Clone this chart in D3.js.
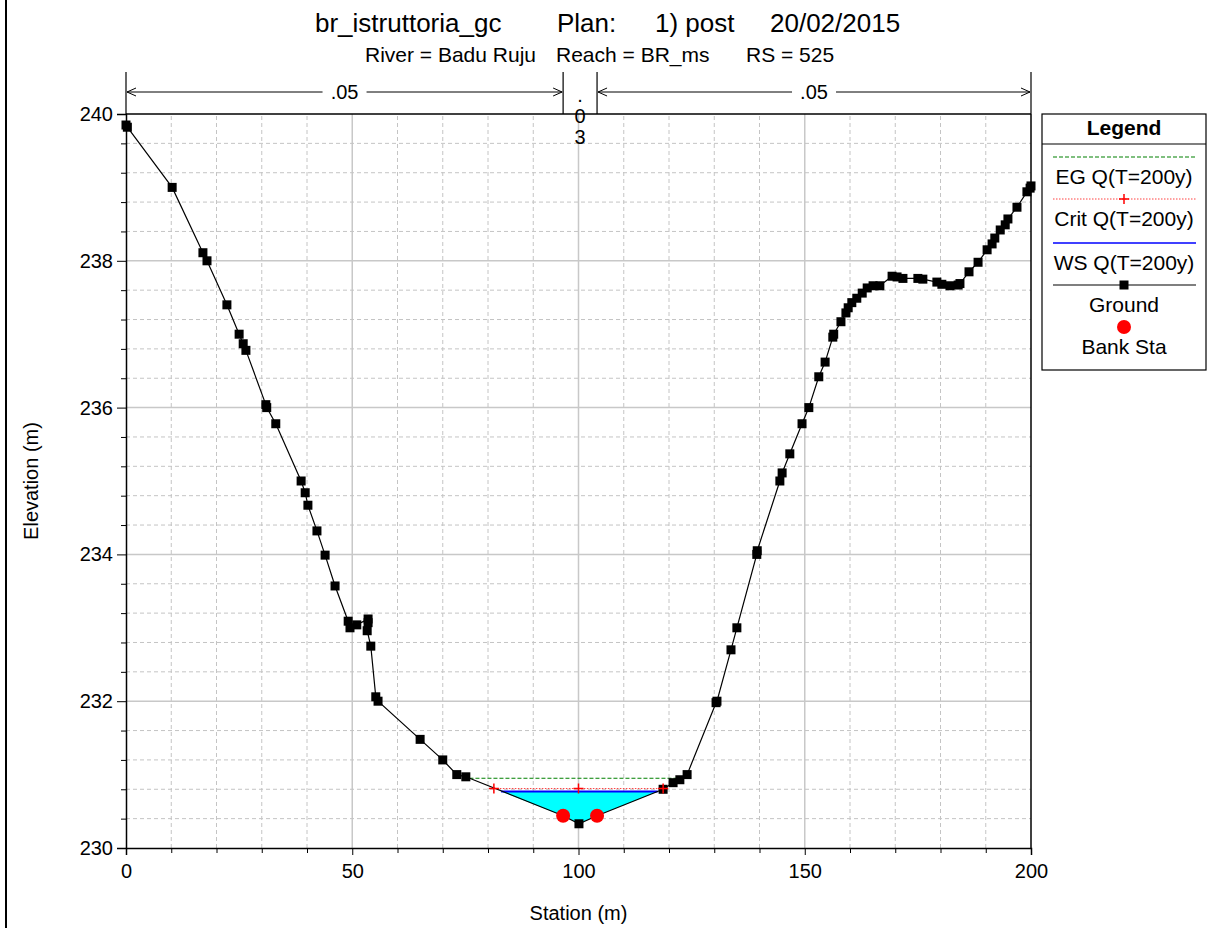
<!DOCTYPE html>
<html lang="en">
  <head>
    <meta charset="utf-8">
    <title>Cross section</title>
    <script src="https://d3js.org/d3.v7.js"></script>
    <style>
      body { margin: 0; background: #fff; }
      text { font-family: "Liberation Sans", Arial, sans-serif; fill: #000; }
    </style>
  </head>
  <body>
  <script>

// ground profile (station m, elevation m)
var groundStation = [0, 0.3, 10.2, 17.0, 17.9, 22.3, 25.0, 25.9, 26.5, 30.9, 31.1, 33.1,
  38.7, 39.6, 40.2, 42.2, 44.0, 46.2, 49.1, 49.5, 51.0, 53.5, 53.5, 53.3, 54.1, 55.2, 55.7,
  65.0, 70.0, 73.1, 75.1, 96.6, 100.1, 104.1, 118.7, 120.9, 122.4, 124.0,
  130.4, 130.6, 133.7, 135.0, 139.4, 139.5, 144.5, 145.0, 146.7, 149.4, 150.9,
  153.1, 154.5, 156.2, 156.4, 158.0, 159.1, 159.6, 160.4, 161.5, 162.7, 163.8, 165.1, 166.6,
  169.3, 170.4, 171.7, 175.0, 176.1, 179.2, 180.3, 182.1, 183.9, 184.3, 186.3, 188.3,
  190.3, 191.4, 192.0, 193.2, 194.3, 194.9, 196.9, 199.1, 199.8, 200];
var groundElev = [239.85, 239.82, 239.0, 238.11, 238.0, 237.40, 237.0, 236.87, 236.78, 236.04, 236.0, 235.78,
  235.0, 234.84, 234.67, 234.32, 233.99, 233.57, 233.09, 233.0, 233.04, 233.12, 233.07, 232.96, 232.75, 232.06, 232.0,
  231.48, 231.2, 231.0, 230.97, 230.44, 230.33, 230.44, 230.80, 230.89, 230.93, 231.0,
  231.98, 232.0, 232.70, 233.0, 234.0, 234.05, 235.0, 235.11, 235.37, 235.78, 236.0,
  236.42, 236.62, 236.96, 237.0, 237.17, 237.29, 237.36, 237.43, 237.49, 237.56, 237.63, 237.66, 237.66,
  237.79, 237.78, 237.76, 237.76, 237.75, 237.71, 237.68, 237.66, 237.67, 237.69, 237.85, 237.98,
  238.15, 238.23, 238.31, 238.42, 238.49, 238.57, 238.73, 238.94, 238.99, 239.02];

var bankStation = [96.6, 104.1];
var bankElev = [230.44, 230.44];

var wsElev = 230.77;
var wsStation = [82.9, 117.5];
var critElev = 230.81;
var critStation = [81.3, 100, 118.7];
var egElev = 230.95;
var egStation = [75.9, 123.0];

var nStation = [0, 96.6, 104.1, 200];
var nValue = [".05", ".03", ".05"];

var xTicks = [0, 50, 100, 150, 200];
var yTicks = [230, 232, 234, 236, 238, 240];

var legendItems = ["EG Q(T=200y)", "Crit Q(T=200y)", "WS Q(T=200y)", "Ground", "Bank Sta"];

var w = 1213, h = 928;
var margin = {top: 114, right: 182, bottom: 80, left: 126};

var xScale = d3.scaleLinear().domain([0, 200]).range([margin.left, w - margin.right]);
var yScale = d3.scaleLinear().domain([230, 240]).range([h - margin.bottom, margin.top]);

var svg = d3.select("body").append("svg")
    .attr("width", w)
    .attr("height", h);

// page edge
svg.append("line")
    .attr("x1", 6).attr("x2", 6).attr("y1", 0).attr("y2", h)
    .attr("stroke", "#000").attr("stroke-width", 2);

// grid
var xGrid = d3.range(0, 201, 10);
var yGrid = d3.range(0, 26).map(i => 230 + i * 0.4);
var isMajorY = d => yTicks.some(t => Math.abs(t - d) < 1e-6);

svg.append("g").selectAll("line")
    .data(xGrid.filter(d => d > 0 && d < 200))
    .enter().append("line")
    .attr("x1", d => xScale(d)).attr("x2", d => xScale(d))
    .attr("y1", yScale(230)).attr("y2", yScale(240))
    .attr("stroke", d => d % 50 == 0 ? "#c8c8c8" : "#c4c4c4")
    .attr("stroke-width", d => d % 50 == 0 ? 1.5 : 1)
    .attr("stroke-dasharray", d => d % 50 == 0 ? null : "4,3");

svg.append("g").selectAll("line")
    .data(yGrid.slice(1, 25))
    .enter().append("line")
    .attr("x1", xScale(0)).attr("x2", xScale(200))
    .attr("y1", d => yScale(d)).attr("y2", d => yScale(d))
    .attr("stroke", d => isMajorY(d) ? "#c8c8c8" : "#c4c4c4")
    .attr("stroke-width", d => isMajorY(d) ? 1.5 : 1)
    .attr("stroke-dasharray", d => isMajorY(d) ? null : "4,3");

// axes
var xAxis = d3.axisBottom(xScale)
    .tickValues(xGrid)
    .tickSize(7)
    .tickPadding(9)
    .tickFormat(d => xTicks.indexOf(d) >= 0 ? d : "");
var yAxis = d3.axisLeft(yScale)
    .tickValues(yGrid)
    .tickSize(9)
    .tickPadding(4)
    .tickFormat(d => isMajorY(d) ? Math.round(d) : "");

var gx = svg.append("g")
    .attr("transform", `translate(0, ${yScale(230)})`)
    .call(xAxis);
var gy = svg.append("g")
    .attr("transform", `translate(${xScale(0)}, 0)`)
    .call(yAxis);
gx.selectAll(".tick line").attr("y2", d => xTicks.indexOf(d) >= 0 ? 7 : 5);
gy.selectAll(".tick line").attr("x2", d => isMajorY(d) ? -9 : -5);
[gx, gy].forEach(function (g) {
  g.select(".domain").attr("stroke", "#000").attr("stroke-width", 1.5);
  g.selectAll(".tick line").attr("stroke", "#000");
  g.selectAll(".tick text").attr("font-size", 20).attr("font-family", "Liberation Sans, Arial, sans-serif");
});

// frame top and right
svg.append("line")
    .attr("x1", xScale(0)).attr("x2", xScale(200))
    .attr("y1", yScale(240)).attr("y2", yScale(240))
    .attr("stroke", "#000").attr("stroke-width", 1.5);
svg.append("line")
    .attr("x1", xScale(200)).attr("x2", xScale(200))
    .attr("y1", yScale(240)).attr("y2", yScale(230))
    .attr("stroke", "#000").attr("stroke-width", 1.5);

// manning n bar
var nY = 92;
svg.append("g").selectAll("line")
    .data(nStation)
    .enter().append("line")
    .attr("x1", d => xScale(d)).attr("x2", d => xScale(d))
    .attr("y1", 72).attr("y2", yScale(240))
    .attr("stroke", "#000").attr("stroke-width", 1.2);

var segs = d3.range(nValue.length).map(i => ({a: nStation[i], b: nStation[i + 1], n: nValue[i]}));
segs.forEach(function (s) {
  var x0 = xScale(s.a), x1 = xScale(s.b), xm = (x0 + x1) / 2;
  if (x1 - x0 > 60) {
    var gap = 22;
    svg.append("line").attr("x1", x0 + 1).attr("x2", xm - gap)
        .attr("y1", nY).attr("y2", nY).attr("stroke", "#000").attr("stroke-width", 1);
    svg.append("line").attr("x1", xm + gap).attr("x2", x1 - 1)
        .attr("y1", nY).attr("y2", nY).attr("stroke", "#000").attr("stroke-width", 1);
    svg.append("path")
        .attr("d", `M${x0 + 10},${nY - 4}L${x0 + 1},${nY}L${x0 + 10},${nY + 4}M${x1 - 10},${nY - 4}L${x1 - 1},${nY}L${x1 - 10},${nY + 4}`)
        .attr("fill", "none").attr("stroke", "#000").attr("stroke-width", 1);
    svg.append("text").attr("x", xm).attr("y", nY + 7)
        .attr("text-anchor", "middle").attr("font-size", 20).text(s.n);
  } else {
    s.n.split("").forEach(function (c, k) {
      svg.append("text").attr("x", xm).attr("y", 102 + k * 21)
          .attr("text-anchor", "middle").attr("font-size", 20).text(c);
    });
  }
});

// water fill
var line = d3.line().x(d => xScale(d[0])).y(d => yScale(d[1]));
var inside = groundStation.map((s, i) => [s, groundElev[i]])
    .filter(d => d[0] > wsStation[0] && d[0] < wsStation[1]);
var poly = [[wsStation[0], wsElev]].concat(inside, [[wsStation[1], wsElev]]);
svg.append("path")
    .attr("d", line(poly) + "Z")
    .attr("fill", "#00ffff").attr("stroke", "none");

// EG line
svg.append("path")
    .attr("d", line(egStation.map(s => [s, egElev])))
    .attr("stroke", "#008000").attr("stroke-width", 1.2)
    .attr("stroke-dasharray", "4,2").attr("fill", "none");

// crit line
svg.append("path")
    .attr("d", line([[critStation[0], critElev], [critStation[critStation.length - 1], critElev]]))
    .attr("stroke", "#ff4040").attr("stroke-width", 1)
    .attr("stroke-dasharray", "1.5,1.5").attr("fill", "none");

// WS line
svg.append("path")
    .attr("d", line(wsStation.map(s => [s, wsElev])))
    .attr("stroke", "#0000ff").attr("stroke-width", 2).attr("fill", "none");

// ground
var ground = groundStation.map((s, i) => [s, groundElev[i]]);
svg.append("path")
    .attr("d", line(ground))
    .attr("stroke", "#000").attr("stroke-width", 1.2).attr("fill", "none");
svg.append("g").selectAll("rect")
    .data(ground)
    .enter().append("rect")
    .attr("x", d => xScale(d[0]) - 4.5)
    .attr("y", d => yScale(d[1]) - 4.5)
    .attr("width", 9).attr("height", 9)
    .attr("fill", "#000");

// crit crosses
svg.append("g").selectAll("path")
    .data(critStation)
    .enter().append("path")
    .attr("d", d => `M${xScale(d) - 5},${yScale(critElev)}h10M${xScale(d)},${yScale(critElev) - 5}v10`)
    .attr("stroke", "#ff0000").attr("stroke-width", 1.5);

// bank stations
svg.append("g").selectAll("circle")
    .data(bankStation)
    .enter().append("circle")
    .attr("cx", d => xScale(d))
    .attr("cy", (d, i) => yScale(bankElev[i]))
    .attr("r", 7)
    .attr("fill", "#ff0000");

// titles
var t1 = [["br_istruttoria_gc", 315], ["Plan:", 557], ["1) post", 655], ["20/02/2015", 770]];
t1.forEach(function (t) {
  svg.append("text").attr("x", t[1]).attr("y", 32)
      .attr("font-size", 26).text(t[0]);
});
var t2 = [["River = Badu Ruju", 365], ["Reach = BR_ms", 556], ["RS = 525", 746]];
t2.forEach(function (t) {
  svg.append("text").attr("x", t[1]).attr("y", 62)
      .attr("font-size", 21).text(t[0]);
});

svg.append("text")
    .attr("x", (xScale(0) + xScale(200)) / 2).attr("y", 920)
    .attr("text-anchor", "middle").attr("font-size", 20).text("Station (m)");
svg.append("text")
    .attr("transform", `translate(38, ${(yScale(230) + yScale(240)) / 2}) rotate(-90)`)
    .attr("text-anchor", "middle").attr("font-size", 20).text("Elevation (m)");

// legend
var lg = svg.append("g");
var lx = 1042, lw = 164, cx = lx + lw / 2;
lg.append("rect").attr("x", lx).attr("y", 114).attr("width", lw).attr("height", 256)
    .attr("fill", "#fff").attr("stroke", "#000").attr("stroke-width", 1.2);
lg.append("text").attr("x", cx).attr("y", 135).attr("text-anchor", "middle")
    .attr("font-size", 21).attr("font-weight", "bold").text("Legend");
lg.append("line").attr("x1", lx).attr("x2", lx + lw).attr("y1", 144).attr("y2", 144)
    .attr("stroke", "#000").attr("stroke-width", 1.2);

var rowY = [157, 199, 243, 285, 327];
var x0l = 1053, x1l = 1196;
lg.append("line").attr("x1", x0l).attr("x2", x1l).attr("y1", rowY[0]).attr("y2", rowY[0])
    .attr("stroke", "#008000").attr("stroke-width", 1.2).attr("stroke-dasharray", "4,2");
lg.append("line").attr("x1", x0l).attr("x2", x1l).attr("y1", rowY[1]).attr("y2", rowY[1])
    .attr("stroke", "#ff4040").attr("stroke-width", 1).attr("stroke-dasharray", "1.5,1.5");
lg.append("path").attr("d", `M${cx - 5},${rowY[1]}h10M${cx},${rowY[1] - 5}v10`)
    .attr("stroke", "#ff0000").attr("stroke-width", 1.5);
lg.append("line").attr("x1", x0l).attr("x2", x1l).attr("y1", rowY[2]).attr("y2", rowY[2])
    .attr("stroke", "#0000ff").attr("stroke-width", 1.5);
lg.append("line").attr("x1", x0l).attr("x2", x1l).attr("y1", rowY[3]).attr("y2", rowY[3])
    .attr("stroke", "#000").attr("stroke-width", 1.2);
lg.append("rect").attr("x", cx - 4.5).attr("y", rowY[3] - 4.5).attr("width", 9).attr("height", 9)
    .attr("fill", "#000");
lg.append("circle").attr("cx", cx).attr("cy", rowY[4]).attr("r", 7).attr("fill", "#ff0000");

legendItems.forEach(function (t, i) {
  lg.append("text").attr("x", cx).attr("y", rowY[i] + 27)
      .attr("text-anchor", "middle").attr("font-size", 21).text(t);
});

  </script>
  </body>
</html>
